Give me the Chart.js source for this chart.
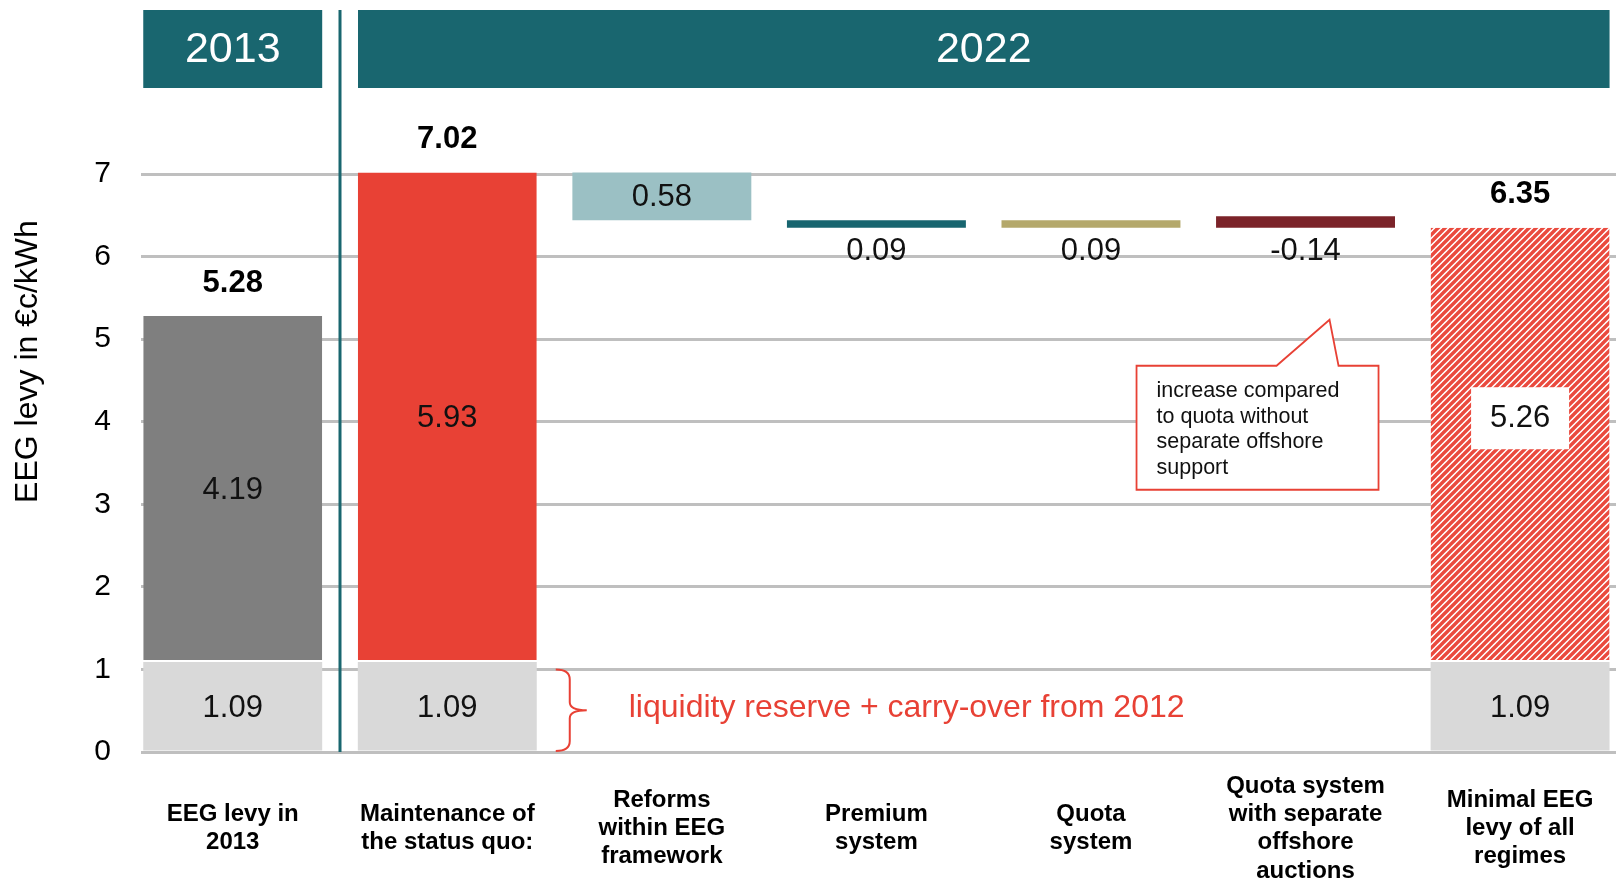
<!DOCTYPE html>
<html><head><meta charset="utf-8">
<script src="https://cdn.jsdelivr.net/npm/chart.js@4.4.1/dist/chart.umd.min.js"></script>
<style>html,body{margin:0;padding:0;background:#fff;overflow:hidden}canvas{display:block}</style>
</head><body>
<canvas id="c" width="1616" height="890"></canvas>
<script>
// ---------- data ----------
const categories = [
  ['EEG levy in', '2013'],
  ['Maintenance of', 'the status quo:'],
  ['Reforms', 'within EEG', 'framework'],
  ['Premium', 'system'],
  ['Quota', 'system'],
  ['Quota system', 'with separate', 'offshore', 'auctions'],
  ['Minimal EEG', 'levy of all', 'regimes']
];
const periods = ['2013', '2022'];
const yTicks = [0, 1, 2, 3, 4, 5, 6, 7];
const reserve = [1.09, 1.09, null, null, null, null, 1.09];
const levy = [4.19, 5.93, null, null, null, null, 5.26];
const totals = [5.28, 7.02, null, null, null, null, 6.35];
const changeLow = [null, null, 6.44, 6.35, 6.35, 6.35, null];
const changeHigh = [null, null, 7.02, 6.44, 6.44, 6.49, null];
const changeValues = [null, null, 0.58, 0.09, 0.09, -0.14, null];
const reserveNote = 'liquidity reserve + carry-over from 2012';
const calloutLines = ['increase compared', 'to quota without', 'separate offshore', 'support'];
const axisTitle = 'EEG levy in €c/kWh';

// ---------- styles ----------
const FONT = "'Liberation Sans', Arial, Helvetica, sans-serif";
const RED = '#e84135';
const TEAL = '#19666f';
const levyColors = ['#7f7f7f', RED, null, null, null, null, 'HATCH'];
const changeColors = [null, null, '#9bc0c4', '#17656f', '#b4a86b', '#7b2329', null];

const canvas = document.getElementById('c');
const ctx0 = canvas.getContext('2d');
function makeHatch() {
  const p = 7, c = document.createElement('canvas');
  c.width = p; c.height = p;
  const g = c.getContext('2d');
  g.fillStyle = '#fff'; g.fillRect(0, 0, p, p);
  g.strokeStyle = '#ea4a3e'; g.lineWidth = 3.4;
  g.beginPath();
  g.moveTo(0, p); g.lineTo(p, 0);
  g.moveTo(-1, 1); g.lineTo(1, -1);
  g.moveTo(p - 1, p + 1); g.lineTo(p + 1, p - 1);
  g.stroke();
  return ctx0.createPattern(c, 'repeat');
}
const hatch = makeHatch();

const idx = categories.map((_, i) => i);
const reserveData = idx.map(i => ({x: i, y: reserve[i] == null ? null : [0, reserve[i]]}));
const levyData = idx.map(i => ({x: i, y: levy[i] == null ? null : [reserve[i], reserve[i] + levy[i]]}));
const changeData = idx.map(i => ({x: i, y: changeLow[i] == null ? null : [changeLow[i], changeHigh[i]]}));

function txt(ctx, s, x, y, font, color, align) {
  ctx.font = font; ctx.fillStyle = color; ctx.textAlign = align || 'center'; ctx.textBaseline = 'middle';
  ctx.fillText(s, x, y);
}

const overlay = {
  id: 'overlay',
  afterDatasetsDraw(chart) {
    const ctx = chart.ctx;
    const xs = chart.scales.x, ys = chart.scales.y;
    const ca = chart.chartArea;
    const mRes = chart.getDatasetMeta(0).data;
    const mLevy = chart.getDatasetMeta(1).data;
    const mChg = chart.getDatasetMeta(2).data;
    const bw = mRes[0].width;
    const y0 = ys.getPixelForValue(0);
    ctx.save();

    // axis title
    ctx.save();
    ctx.translate(28, (ca.top + ca.bottom) / 2 - 19);
    ctx.rotate(-Math.PI / 2);
    txt(ctx, axisTitle, 0, 0, '32px ' + FONT, '#000');
    ctx.restore();

    // headers
    const hTop = 10, hH = 78;
    const sepX = xs.getPixelForValue(0.5);
    const b0 = mRes[0], bLast = mRes[mRes.length - 1];
    ctx.fillStyle = TEAL;
    ctx.fillRect(b0.x - bw / 2, hTop, bw, hH);
    const h2L = sepX + 18, h2R = bLast.x + bw / 2;
    ctx.fillRect(h2L, hTop, h2R - h2L, hH);
    txt(ctx, periods[0], b0.x, hTop + hH / 2 + 1, '43px ' + FONT, '#fff');
    txt(ctx, periods[1], (h2L + h2R) / 2, hTop + hH / 2 + 1, '43px ' + FONT, '#fff');

    // separator
    ctx.strokeStyle = TEAL; ctx.lineWidth = 3;
    ctx.beginPath(); ctx.moveTo(sepX, hTop); ctx.lineTo(sepX, y0); ctx.stroke();

    const valFont = '31px ' + FONT;
    const boldFont = 'bold 31px ' + FONT;
    let rowY = null;
    idx.forEach(i => {
      if (reserve[i] != null) {
        const e = mRes[i];
        txt(ctx, reserve[i].toFixed(2), e.x, (e.y + e.base) / 2 + 2, valFont, '#111');
      }
      if (levy[i] != null) {
        const e = mLevy[i];
        let ly = (e.y + e.base) / 2 + 1;
        if (levyColors[i] === 'HATCH') {
          ly = rowY != null ? rowY : ly;
          ctx.fillStyle = '#fff';
          ctx.fillRect(e.x - 49, ly - 31, 98, 62);
        } else if (rowY == null || i === 1) {
          rowY = ly;
        }
        txt(ctx, levy[i].toFixed(2), e.x, ly, valFont, '#111');
        txt(ctx, totals[i].toFixed(2), e.x, e.y - 33, boldFont, '#000');
      }
      if (changeValues[i] != null) {
        const e = mChg[i];
        const top = Math.min(e.y, e.base), bot = Math.max(e.y, e.base);
        const s = changeValues[i].toFixed(2);
        if (bot - top > 25) txt(ctx, s, e.x, (top + bot) / 2 + 1, valFont, '#111');
        else txt(ctx, s, e.x, bot + 24, valFont, '#111');
      }
    });

    // brace + note next to status-quo reserve
    const r = mRes[1];
    const rEdge = r.x + bw / 2;
    const bTop = ys.getPixelForValue(1), bBot = y0 - 1;
    const bMid = (bTop + bBot) / 2;
    const tipX = rEdge + 19, spX = rEdge + 33, ptX = rEdge + 50;
    ctx.strokeStyle = RED; ctx.lineWidth = 2;
    ctx.beginPath();
    ctx.moveTo(tipX, bTop);
    ctx.quadraticCurveTo(spX, bTop, spX, bTop + 10);
    ctx.lineTo(spX, bMid - 8);
    ctx.quadraticCurveTo(spX, bMid, ptX, bMid);
    ctx.quadraticCurveTo(spX, bMid, spX, bMid + 8);
    ctx.lineTo(spX, bBot - 10);
    ctx.quadraticCurveTo(spX, bBot, tipX, bBot);
    ctx.stroke();
    txt(ctx, reserveNote, rEdge + 92, (r.y + r.base) / 2 + 2, '32px ' + FONT, RED, 'left');

    // callout under the offshore bar
    const c = mChg[5];
    const xc = c.x;
    const ly = Math.max(c.y, c.base) + 24;
    const tipY = ly + 68, boxT = ly + 114, boxB = ly + 238;
    const boxL = xc - 169, boxR = xc + 73;
    ctx.beginPath();
    ctx.moveTo(boxL, boxT);
    ctx.lineTo(xc - 29, boxT);
    ctx.lineTo(xc + 24, tipY);
    ctx.lineTo(xc + 33, boxT);
    ctx.lineTo(boxR, boxT);
    ctx.lineTo(boxR, boxB);
    ctx.lineTo(boxL, boxB);
    ctx.closePath();
    ctx.fillStyle = '#fff'; ctx.fill();
    ctx.strokeStyle = RED; ctx.lineWidth = 1.8; ctx.stroke();
    calloutLines.forEach((s, k) => txt(ctx, s, boxL + 20, boxT + 25.5 + k * 25.5, '21.5px ' + FONT, '#111', 'left'));
    ctx.restore();
  }
};

new Chart(canvas, {
  type: 'bar',
  data: {
    datasets: [
      {data: reserveData, backgroundColor: '#d9d9d9', borderWidth: 0},
      {data: levyData, backgroundColor: levyColors.map(c => c === 'HATCH' ? hatch : c),
       borderColor: '#fff', borderWidth: {top: 0, left: 0, right: 0, bottom: 2}, borderSkipped: false},
      {data: changeData, backgroundColor: changeColors, borderWidth: 0}
    ]
  },
  options: {
    responsive: false, animation: false, devicePixelRatio: 1,
    layout: {padding: {top: 9, left: 0, right: 0, bottom: 0}},
    plugins: {legend: {display: false}, tooltip: {enabled: false}},
    datasets: {bar: {grouped: false, barPercentage: 0.834, categoryPercentage: 1}},
    scales: {
      x: {
        type: 'linear', min: -0.4275, max: 6.447, bounds: 'data', offset: false,
        afterBuildTicks: s => { s.ticks = idx.map(i => ({value: i})); },
        afterFit: s => { s.height = 138; s.paddingLeft = 0; s.paddingRight = 0; s.paddingTop = 0; s.paddingBottom = 0; },
        grid: {display: false, offset: false}, border: {display: false},
        ticks: {autoSkip: false, maxRotation: 0, minRotation: 0, crossAlign: 'center', padding: 26,
                color: '#000', font: {family: FONT, size: 24, weight: 'bold', lineHeight: 1.18},
                callback: v => categories[v]}
      },
      y: {
        min: 0, max: 9, bounds: 'data',
        afterBuildTicks: s => { s.ticks = yTicks.map(v => ({value: v})); },
        afterFit: s => { s.width = 141; s.paddingTop = 0; s.paddingBottom = 0; s.paddingLeft = 0; s.paddingRight = 0; },
        grid: {color: '#bfbfbf', lineWidth: 3, drawTicks: false},
        border: {display: false},
        ticks: {padding: 30, color: '#000', font: {family: FONT, size: 30}},
        title: {display: false}
      }
    }
  },
  plugins: [overlay]
});
</script>
</body></html>
